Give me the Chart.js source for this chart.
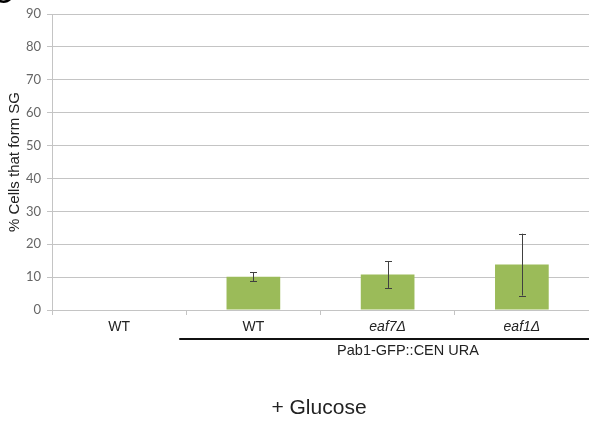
<!DOCTYPE html>
<html>
<head>
<meta charset="utf-8">
<script src="https://cdn.jsdelivr.net/npm/chart.js@4/dist/chart.umd.min.js"></script>
<style>
  html, body { margin: 0; padding: 0; background: #fff; }
  #wrap { width: 589px; height: 425px; position: relative; }
</style>
</head>
<body>
<div id="wrap"><canvas id="chart"></canvas></div>
<script>
const categories = ['WT', 'WT', 'eaf7\u0394', 'eaf1\u0394'];
const italicLabels = [false, false, true, true];
const values = [0, 10.1, 10.8, 13.8];
const errors = [0, 1.35, 4.1, 9.4];
const yTicks = [0, 10, 20, 30, 40, 50, 60, 70, 80, 90];

const errorBars = {
  id: 'errorBars',
  afterDatasetsDraw(chart) {
    const ctx = chart.ctx;
    const x = chart.scales.x, y = chart.scales.y;
    ctx.save();
    ctx.strokeStyle = '#404040';
    ctx.lineWidth = 1;
    values.forEach((v, i) => {
      if (!errors[i]) return;
      const cx = Math.round(x.getPixelForValue(i)) + 0.5;
      const top = y.getPixelForValue(v + errors[i]);
      const bot = y.getPixelForValue(v - errors[i]);
      ctx.beginPath();
      ctx.moveTo(cx, top); ctx.lineTo(cx, bot);
      ctx.moveTo(cx - 3.5, Math.round(top) + 0.5); ctx.lineTo(cx + 3.5, Math.round(top) + 0.5);
      ctx.moveTo(cx - 3.5, Math.round(bot) + 0.5); ctx.lineTo(cx + 3.5, Math.round(bot) + 0.5);
      ctx.stroke();
    });
    ctx.restore();
  }
};

const annotations = {
  id: 'annotations',
  afterDraw(chart) {
    const ctx = chart.ctx;
    const x = chart.scales.x;
    const half = (x.getPixelForValue(1) - x.getPixelForValue(0)) / 2;
    const start = x.getPixelForValue(1) - half - 7;
    ctx.save();
    // bracket under the Pab1-GFP strains
    ctx.fillStyle = '#111';
    ctx.fillRect(start, 338, chart.width - start, 2);
    ctx.textAlign = 'center';
    ctx.textBaseline = 'middle';
    ctx.fillStyle = '#222';
    ctx.font = '14.5px "Liberation Sans", Arial, sans-serif';
    ctx.fillText('Pab1-GFP::CEN URA', 408, 351);
    ctx.font = '21px "Liberation Sans", Arial, sans-serif';
    ctx.fillText('+ Glucose', 319, 408);
    // panel letter, cut off at the top
    ctx.fillStyle = '#000';
    ctx.textAlign = 'left';
    ctx.textBaseline = 'alphabetic';
    ctx.font = 'bold 22px "Liberation Sans", Arial, sans-serif';
    ctx.fillText('G', -5, 3);
    ctx.restore();
  }
};

new Chart(document.getElementById('chart'), {
  type: 'bar',
  data: {
    labels: categories,
    datasets: [{
      data: values,
      backgroundColor: '#9BBB59',
      borderWidth: 0,
      categoryPercentage: 1,
      barPercentage: 0.4
    }]
  },
  options: {
    responsive: true,
    maintainAspectRatio: false,
    animation: false,
    layout: { padding: { top: 14, right: 0, left: 0, bottom: 0 } },
    plugins: { legend: { display: false }, tooltip: { enabled: false } },
    scales: {
      y: {
        min: 0, max: 90,
        afterFit(scale) { scale.width = 52; },
        afterBuildTicks(scale) { scale.ticks = yTicks.map(v => ({ value: v })); },
        grid: { color: '#C4C4C4', tickLength: 5, tickColor: '#C4C4C4' },
        border: { color: '#C4C4C4' },
        ticks: {
          color: '#666',
          padding: 6,
          font: { family: 'Lato, "Open Sans", sans-serif', size: 13 }
        },
        title: {
          display: true,
          text: '% Cells that form SG',
          color: '#222',
          padding: { top: 6, bottom: 0 },
          font: { family: '"Liberation Sans", Arial, sans-serif', size: 15 }
        }
      },
      x: {
        afterFit(scale) { scale.height = 115; },
        grid: { drawOnChartArea: false, tickLength: 5, color: '#C4C4C4', offset: true },
        border: { color: '#C4C4C4' },
        ticks: {
          color: '#222',
          padding: 4,
          font: (c) => ({
            family: '"Liberation Sans", Arial, sans-serif',
            size: 14,
            style: italicLabels[c.index] ? 'italic' : 'normal'
          })
        }
      }
    }
  },
  plugins: [errorBars, annotations]
});
</script>
</body>
</html>
